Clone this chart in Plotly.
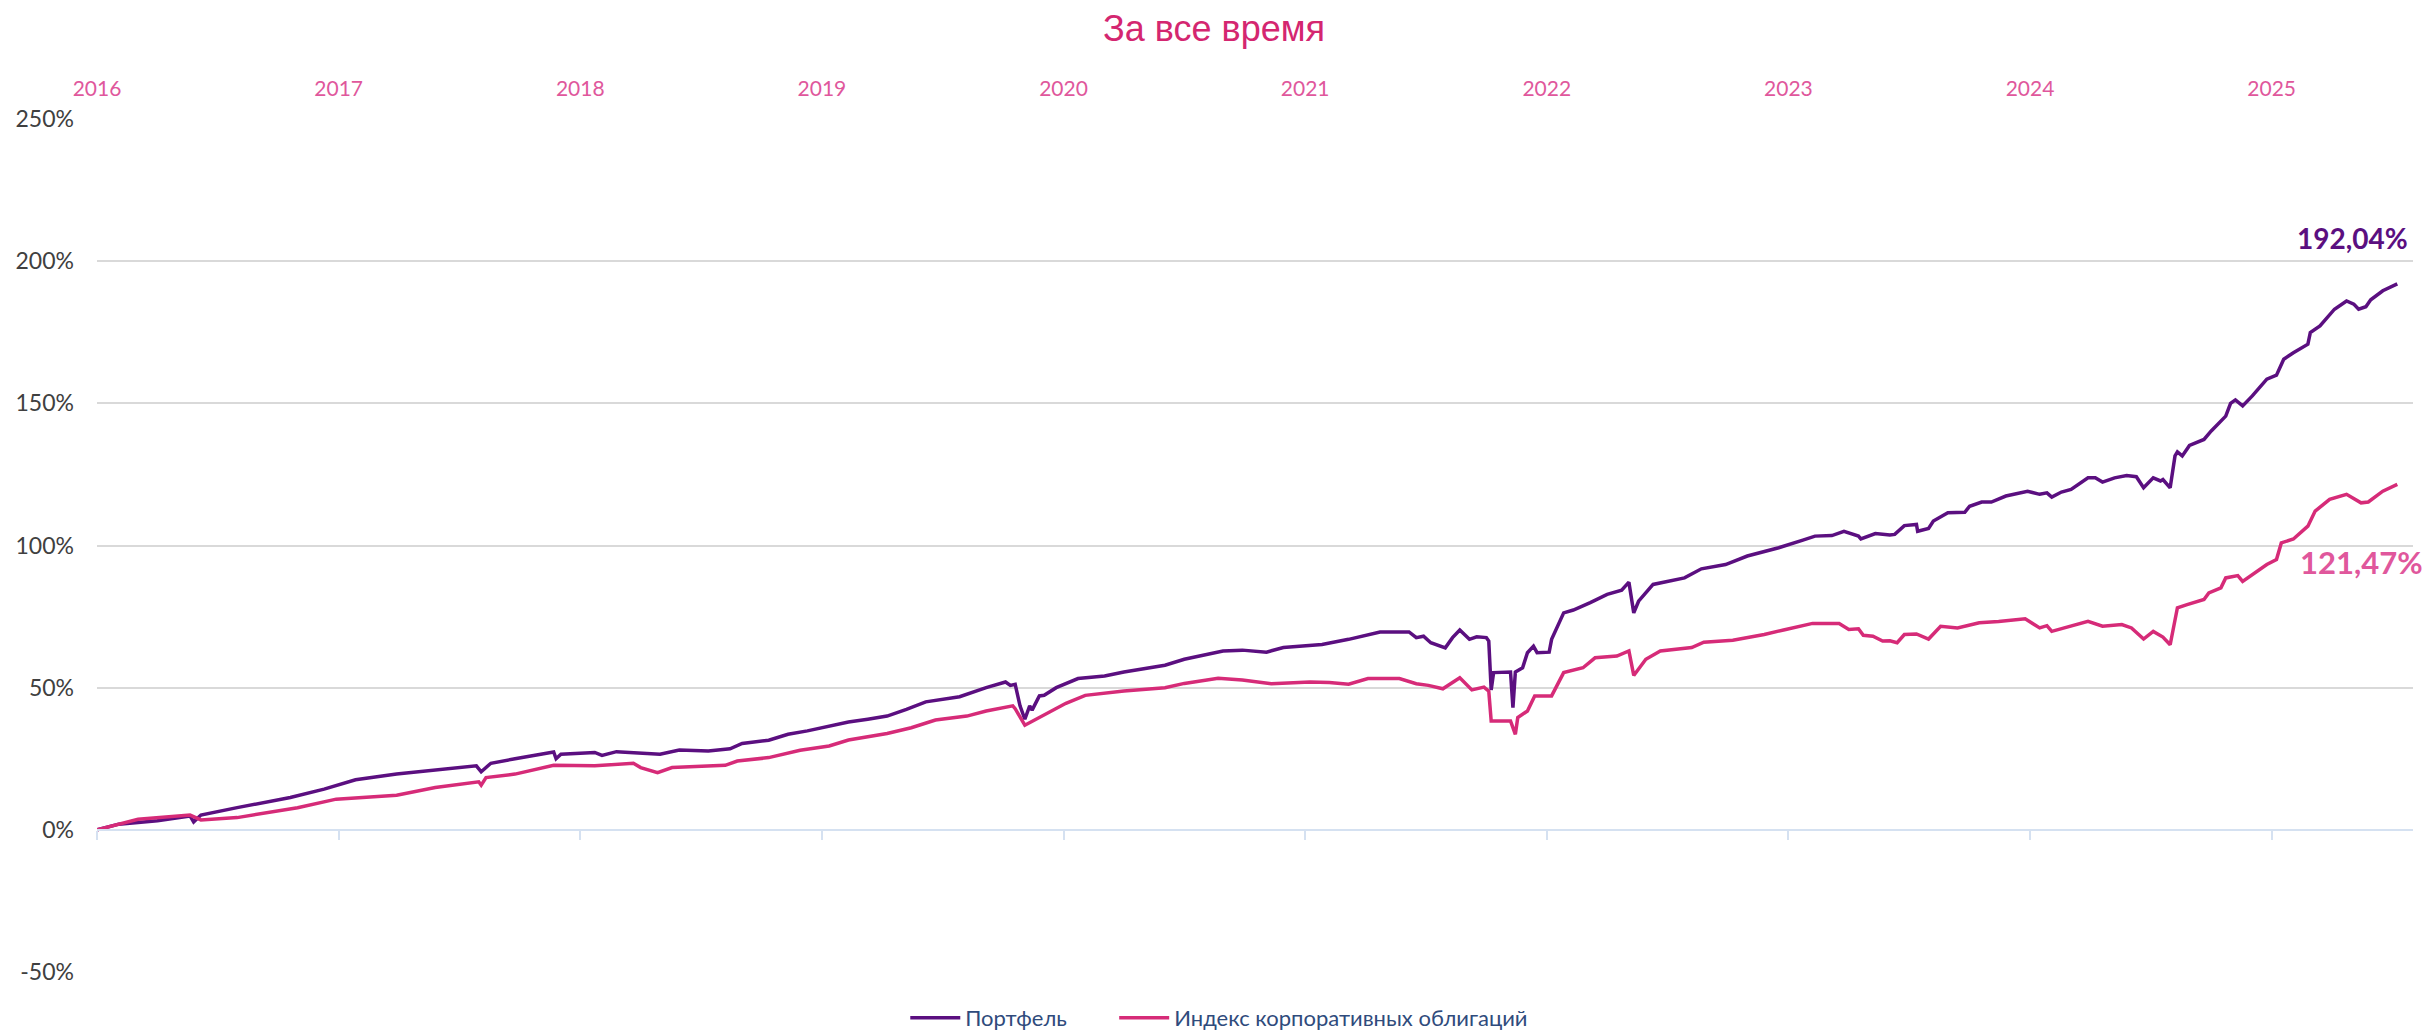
import plotly.graph_objects as go

# ---------------- data (x in fractional years as placed on the chart) ----------------
port_x = [2016.00, 2016.09, 2016.25, 2016.385, 2016.40, 2016.43, 2016.58, 2016.80, 2016.94,
          2017.07, 2017.24, 2017.40, 2017.57, 2017.59, 2017.63, 2017.73, 2017.89, 2017.90,
          2017.92, 2018.06, 2018.09, 2018.15, 2018.33, 2018.41, 2018.53, 2018.62, 2018.67,
          2018.78, 2018.86, 2018.94, 2019.03, 2019.11, 2019.19, 2019.27, 2019.35, 2019.43,
          2019.57, 2019.68, 2019.76, 2019.78, 2019.80, 2019.82, 2019.84, 2019.86, 2019.87,
          2019.90, 2019.92, 2019.97, 2020.06, 2020.17, 2020.25, 2020.42, 2020.50, 2020.58,
          2020.66, 2020.74, 2020.84, 2020.91, 2021.02, 2021.07, 2021.18, 2021.31, 2021.43,
          2021.46, 2021.49, 2021.52, 2021.58, 2021.61, 2021.64, 2021.68, 2021.71, 2021.75,
          2021.76, 2021.77, 2021.78, 2021.85, 2021.86, 2021.87, 2021.90, 2021.92, 2021.945,
          2021.96, 2022.01, 2022.02, 2022.07, 2022.11, 2022.18, 2022.25, 2022.31, 2022.34,
          2022.36, 2022.38, 2022.44, 2022.57, 2022.64, 2022.74, 2022.83, 2022.96, 2023.06,
          2023.11, 2023.18, 2023.23, 2023.29, 2023.30, 2023.36, 2023.42, 2023.44, 2023.48,
          2023.53, 2023.535, 2023.58, 2023.60, 2023.66, 2023.73, 2023.75, 2023.80, 2023.84,
          2023.90, 2023.99, 2024.04, 2024.07, 2024.09, 2024.13, 2024.17, 2024.24, 2024.27,
          2024.30, 2024.35, 2024.40, 2024.44, 2024.47, 2024.51, 2024.54, 2024.55, 2024.58,
          2024.60, 2024.61, 2024.63, 2024.66, 2024.72, 2024.75, 2024.81, 2024.83, 2024.85,
          2024.88, 2024.92, 2024.98, 2025.02, 2025.05, 2025.09, 2025.15, 2025.16, 2025.20,
          2025.26, 2025.31, 2025.34, 2025.36, 2025.39, 2025.41, 2025.46, 2025.52]
port_y = [0.0, 2.0, 3.2, 4.9, 2.8, 5.2, 7.8, 11.4, 14.3,
          17.6, 19.6, 21.0, 22.5, 20.4, 23.4, 25.0, 27.4, 25.0,
          26.6, 27.2, 26.2, 27.5, 26.6, 28.1, 27.7, 28.5, 30.4,
          31.5, 33.6, 34.8, 36.5, 37.9, 38.9, 40.0, 42.4, 45.0,
          46.8, 50.0, 52.0, 50.8, 51.2, 43.6, 38.9, 43.6, 42.1,
          47.1, 47.3, 50.0, 53.2, 54.1, 55.5, 57.9, 60.0, 61.4,
          62.9, 63.2, 62.5, 64.1, 64.9, 65.2, 67.0, 69.6, 69.6,
          67.6, 68.1, 65.8, 64.0, 67.6, 70.3, 67.0, 67.9, 67.6,
          66.4, 49.2, 55.3, 55.5, 43.0, 55.5, 57.0, 62.3, 64.6,
          62.3, 62.5, 67.0, 76.3, 77.3, 79.9, 82.8, 84.3, 87.1,
          76.3, 80.4, 86.3, 88.6, 91.8, 93.3, 96.3, 99.2, 101.9,
          103.3, 103.5, 105.0, 103.3, 102.3, 104.2, 103.7, 103.9, 107.0,
          107.4, 105.0, 106.0, 108.6, 111.5, 111.7, 113.8, 115.3, 115.3,
          117.4, 119.1, 118.0, 118.5, 117.0, 118.8, 119.7, 123.8, 123.8,
          122.3, 123.8, 124.6, 124.2, 120.3, 123.8, 122.7, 123.2, 120.3,
          131.5, 132.9, 131.5, 135.2, 137.3, 140.3, 145.5, 150.0, 151.2,
          149.1, 152.6, 158.5, 159.9, 165.5, 167.8, 170.8, 174.9, 177.2,
          183.1, 186.0, 184.9, 183.1, 184.0, 186.4, 189.6, 192.04]

idx_x = [2016.00, 2016.17, 2016.385, 2016.43, 2016.58, 2016.83, 2016.99, 2017.24, 2017.40,
         2017.58, 2017.59, 2017.61, 2017.73, 2017.89, 2018.06, 2018.22, 2018.25, 2018.32,
         2018.38, 2018.50, 2018.60, 2018.65, 2018.78, 2018.91, 2019.03, 2019.11, 2019.27,
         2019.37, 2019.47, 2019.60, 2019.68, 2019.79, 2019.80, 2019.84, 2019.93, 2020.01,
         2020.09, 2020.25, 2020.42, 2020.50, 2020.64, 2020.74, 2020.86, 2021.02, 2021.10,
         2021.18, 2021.26, 2021.39, 2021.46, 2021.51, 2021.57, 2021.64, 2021.69, 2021.74,
         2021.76, 2021.77, 2021.85, 2021.87, 2021.88, 2021.92, 2021.95, 2022.02, 2022.07,
         2022.15, 2022.20, 2022.29, 2022.34, 2022.36, 2022.41, 2022.47, 2022.60, 2022.65,
         2022.77, 2022.90, 2022.98, 2023.10, 2023.21, 2023.25, 2023.29, 2023.31, 2023.35,
         2023.39, 2023.42, 2023.45, 2023.48, 2023.53, 2023.58, 2023.63, 2023.70, 2023.79,
         2023.87, 2023.98, 2024.04, 2024.07, 2024.09, 2024.16, 2024.24, 2024.30, 2024.38,
         2024.42, 2024.47, 2024.51, 2024.55, 2024.58, 2024.61, 2024.65, 2024.72, 2024.74,
         2024.79, 2024.81, 2024.86, 2024.88, 2024.92, 2024.98, 2025.02, 2025.04, 2025.09,
         2025.15, 2025.18, 2025.24, 2025.31, 2025.37, 2025.40, 2025.43, 2025.46, 2025.52]
idx_y = [0.0, 3.7, 5.2, 3.5, 4.3, 7.8, 10.8, 12.2, 14.9,
         16.9, 15.7, 18.4, 19.6, 22.7, 22.5, 23.4, 21.9, 20.1,
         21.9, 22.3, 22.7, 24.2, 25.4, 28.0, 29.5, 31.6, 33.9,
         35.9, 38.6, 40.0, 41.8, 43.6, 42.6, 36.8, 41.0, 44.5,
         47.3, 48.8, 50.0, 51.5, 53.3, 52.7, 51.4, 52.0, 51.8,
         51.2, 53.2, 53.2, 51.4, 50.8, 49.6, 53.5, 49.2, 50.2,
         48.8, 38.3, 38.3, 33.6, 39.5, 41.8, 47.1, 47.1, 55.3,
         57.0, 60.5, 61.1, 62.9, 54.3, 60.0, 62.9, 64.1, 66.0,
         66.7, 68.7, 70.3, 72.6, 72.6, 70.5, 70.7, 68.4, 68.1,
         66.4, 66.5, 65.8, 68.7, 68.9, 67.1, 71.6, 71.0, 72.8,
         73.3, 74.2, 71.0, 71.8, 69.8, 71.4, 73.3, 71.6, 72.2,
         71.0, 67.1, 69.8, 67.8, 65.1, 78.1, 79.2, 81.0, 83.3,
         85.1, 88.6, 89.4, 87.4, 89.8, 93.3, 95.1, 100.9, 102.3,
         106.8, 112.1, 116.2, 118.0, 115.0, 115.3, 117.4, 119.1, 121.47]

year_ticks = [2016, 2017, 2018, 2019, 2020, 2021, 2022, 2023, 2024, 2025]
year_labels = [str(y) for y in year_ticks]
y_ticks = [-50, 0, 50, 100, 150, 200, 250]
y_labels = ["-50%", "0%", "50%", "100%", "150%", "200%", "250%"]

name_port = "Портфель"
name_idx = "Индекс корпоративных облигаций"
title_text = "За все время"

# ---------------- styles ----------------
PURPLE = "#5B0F80"
PINK = "#D62B78"
PINK_LIGHT = "#E0579C"
TITLE_PINK = "#D42670"
FONT = "Lato"
X_RANGE = [2016.0, 2025.585]

fig = go.Figure()
fig.add_trace(go.Scatter(x=port_x, y=port_y, mode="lines", name=name_port,
                         line=dict(color=PURPLE, width=3.5), legend="legend"))
fig.add_trace(go.Scatter(x=idx_x, y=idx_y, mode="lines", name=name_idx,
                         line=dict(color=PINK, width=3.5), legend="legend2"))
# invisible helper trace for the axis drawn along 0 %
fig.add_trace(go.Scatter(x=port_x, y=port_y, mode="lines", xaxis="x2", yaxis="y",
                         line=dict(color="rgba(0,0,0,0)", width=0), showlegend=False,
                         hoverinfo="skip"))

def fmt(v):
    return f"{v:.2f}".replace(".", ",") + "%"

fig.add_annotation(x=port_x[-1], y=port_y[-1], text="<b>" + fmt(port_y[-1]) + "</b>",
                   showarrow=False, xanchor="right", yanchor="middle", xshift=13, yshift=46,
                   font=dict(family=FONT, size=28, color=PURPLE))
fig.add_annotation(x=idx_x[-1], y=idx_y[-1], text="<b>" + fmt(idx_y[-1]) + "</b>",
                   showarrow=False, xanchor="right", yanchor="middle", xshift=28, yshift=-78,
                   font=dict(family=FONT, size=31, color=PINK_LIGHT))

legend_style = dict(orientation="h", xanchor="left", y=-46 / 853, yanchor="middle",
                    font=dict(family=FONT, size=22, color="#2F4B7C"),
                    bgcolor="rgba(0,0,0,0)", itemwidth=50)

fig.update_layout(
    width=2428, height=1032,
    margin=dict(l=97, r=15, t=119, b=60, autoexpand=False),
    paper_bgcolor="white", plot_bgcolor="white",
    font=dict(family=FONT),
    title=dict(text=title_text, x=0.5, xref="container", xanchor="center",
               y=1 - 28 / 1032, yref="container", yanchor="middle",
               font=dict(family="Liberation Sans", size=36, color=TITLE_PINK)),
    xaxis=dict(range=X_RANGE, side="top", tickvals=year_ticks, ticktext=year_labels,
               showgrid=False, zeroline=False, showline=False, ticks="",
               ticklabelstandoff=18, automargin=False,
               tickfont=dict(family=FONT, size=21, color=PINK_LIGHT)),
    xaxis2=dict(range=X_RANGE, overlaying="x", anchor="free", position=50 / 300,
                side="bottom", tickvals=year_ticks, showticklabels=False, automargin=False,
                showgrid=False, zeroline=False, showline=True, linecolor="#D5E1F1",
                linewidth=2, ticks="outside", ticklen=9, tickwidth=2, tickcolor="#D5E1F1"),
    yaxis=dict(range=[-50, 250], tickvals=y_ticks, ticktext=y_labels, automargin=False,
               showgrid=True, gridcolor="#D9D9D9", gridwidth=2, zeroline=False,
               showline=False, ticks="", ticklabelstandoff=22,
               tickfont=dict(family=FONT, size=23, color="#404040")),
    legend=dict(x=0.349, **legend_style),
    legend2=dict(x=0.4392, **legend_style),
    showlegend=True,
)

fig.write_html("out.html", post_script="document.body.style.margin='0';",
               config={"displayModeBar": False})
